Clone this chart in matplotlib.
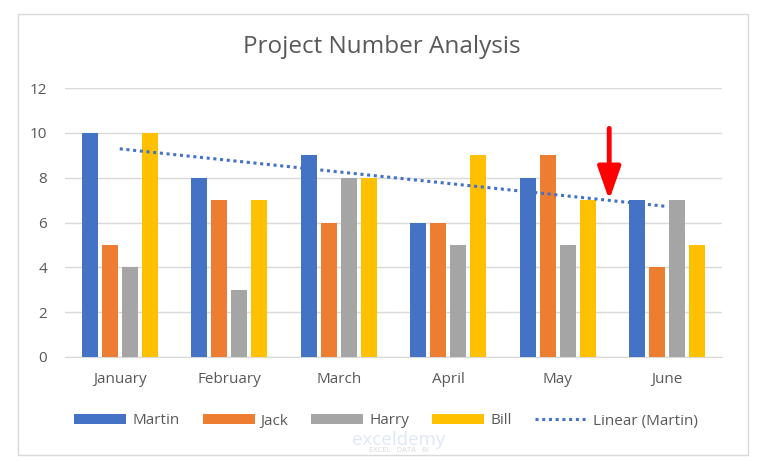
import numpy as np
import matplotlib.pyplot as plt
from matplotlib.patches import Rectangle

months = ["January", "February", "March", "April", "May", "June"]
martin = [10, 8, 9, 6, 8, 7]
jack = [5, 7, 6, 6, 9, 4]
harry = [4, 3, 8, 5, 5, 7]
bill = [10, 7, 8, 9, 7, 5]

names = ["Martin", "Jack", "Harry", "Bill"]
colors = ["#4472C4", "#ED7D31", "#A5A5A5", "#FFC000"]
text_col = "#595959"

plt.rcParams['font.family'] = ['Open Sans', 'DejaVu Sans']

fig = plt.figure(figsize=(7.67, 4.70), dpi=100)
ax = fig.add_axes([65 / 767, 113 / 470, 657 / 767, 269 / 470])

# chart border
fig.patches.append(Rectangle((18 / 767, 15 / 470), 730 / 767, 441 / 470,
                             transform=fig.transFigure, fill=False,
                             edgecolor="#D9D9D9", linewidth=1))

x = np.arange(len(months))
step = 20 / 109.5
width = 16 / 109.5
handles = []
for i, (name, vals, c) in enumerate(zip(names, [martin, jack, harry, bill], colors)):
    h = ax.bar(x + (i - 1.5) * step, vals, width, color=c, label=name,
               linewidth=0, zorder=3)
    handles.append(h)

# linear trendline for Martin
k, b = np.polyfit(x, martin, 1)
tl, = ax.plot(x, k * x + b, linestyle=(0, (1, 1.2)), color="#4472C4", linewidth=2.2,
              label="Linear (Martin)", zorder=4)
handles.append(tl)

ax.set_xlim(-0.5, 5.5)
ax.set_ylim(0, 12)
ax.set_yticks(range(0, 13, 2))
ax.set_xticks(x)
ax.set_xticklabels(months)
ax.grid(axis='y', color="#D9D9D9", linewidth=1, zorder=0)
for s in ["top", "right", "left"]:
    ax.spines[s].set_visible(False)
ax.spines["bottom"].set_color("#D9D9D9")
ax.tick_params(axis='x', length=0, colors=text_col, labelsize=11, pad=11)
ax.tick_params(axis='y', length=0, colors=text_col, labelsize=11, pad=13)

fig.text(382 / 767, 1 - 47 / 470, "Project Number Analysis", ha="center", va="center",
         fontsize=17.5, color=text_col)

# red arrow
ax.annotate("", xy=(4.47, 7.0), xytext=(4.47, 10.2),
            arrowprops=dict(arrowstyle="-|>,head_width=0.7,head_length=2.0",
                            color="red", linewidth=3.5, shrinkA=0, shrinkB=0), zorder=6)

leg = fig.legend(handles, names + ["Linear (Martin)"], loc="center",
                 bbox_to_anchor=(386 / 767, 1 - 421 / 470), ncol=5,
                 frameon=False, fontsize=11, handlelength=3.4, handleheight=0.55,
                 handletextpad=0.4, columnspacing=1.5, labelcolor=text_col)

# watermark
fig.text(399 / 767, 1 - 440 / 470, "exceldemy", ha="center", va="center",
         fontsize=13.5, color="#C9D8F0", alpha=0.6, zorder=0)
fig.text(399 / 767, 1 - 451 / 470, "EXCEL · DATA · BI", ha="center", va="center",
         fontsize=5.5, color="#D0D0D0", alpha=0.8, zorder=0)

fig.savefig("out.png", dpi=100)
